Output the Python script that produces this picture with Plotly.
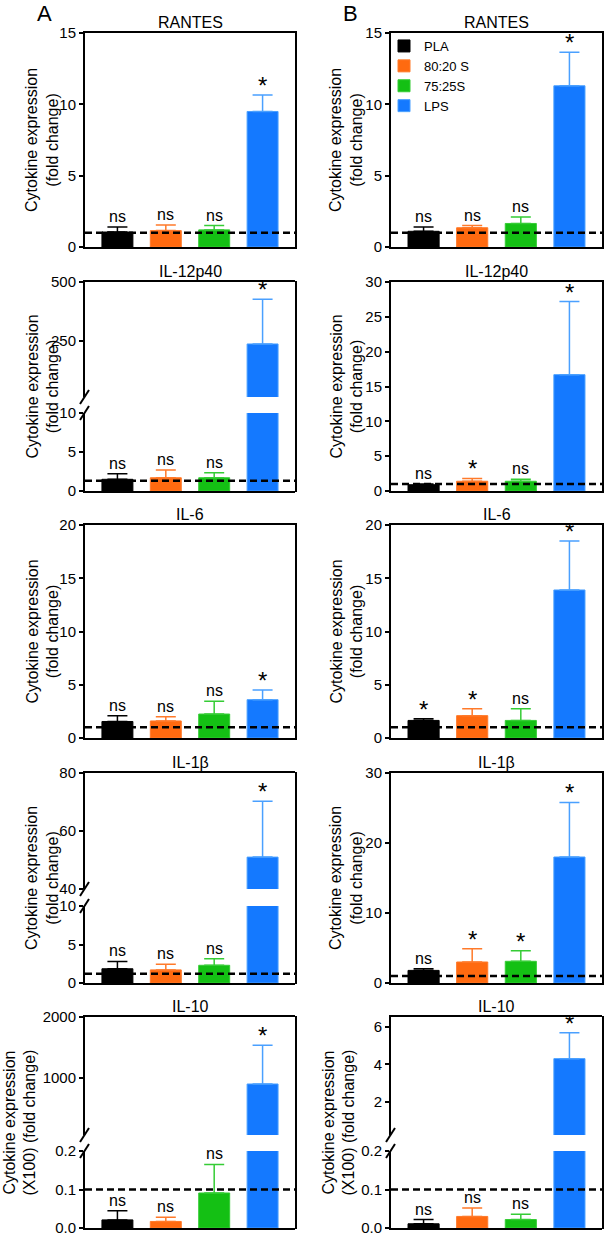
import plotly.graph_objects as go

# Cytokine fold change, two experiments (A, B), four treatment groups
groups = ["PLA", "80:20 S", "75:25S", "LPS"]
bar_colors = ["#000000", "#FF6A10", "#14C014", "#1479FF"]
err_colors = ["#000000", "#FF7A2A", "#35CC35", "#4AA0FF"]

# column A
rantes_a = [1.05, 1.15, 1.2, 9.5]
rantes_a_err = [0.35, 0.4, 0.3, 1.15]
rantes_a_sig = ["ns", "ns", "ns", "*"]
il12_a = [1.5, 1.7, 1.7, 236]
il12_a_err = [0.7, 1.0, 0.65, 190]
il12_a_sig = ["ns", "ns", "ns", "*"]
il6_a = [1.55, 1.6, 2.25, 3.6]
il6_a_err = [0.55, 0.4, 1.2, 0.9]
il6_a_sig = ["ns", "ns", "ns", "*"]
il1b_a = [1.85, 1.7, 2.3, 51]
il1b_a_err = [0.95, 0.75, 0.85, 19.3]
il1b_a_sig = ["ns", "ns", "ns", "*"]
il10_a = [0.021, 0.017, 0.091, 893]
il10_a_err = [0.024, 0.011, 0.074, 640]
il10_a_sig = ["ns", "ns", "ns", "*"]

# column B
rantes_b = [1.1, 1.35, 1.65, 11.3]
rantes_b_err = [0.3, 0.15, 0.45, 2.35]
rantes_b_sig = ["ns", "ns", "ns", "*"]
il12_b = [0.9, 1.4, 1.4, 16.7]
il12_b_err = [0.1, 0.4, 0.3, 10.5]
il12_b_sig = ["ns", "*", "ns", "*"]
il6_b = [1.65, 2.1, 1.65, 13.9]
il6_b_err = [0.15, 0.65, 1.1, 4.6]
il6_b_sig = ["*", "*", "ns", "*"]
il1b_b = [1.8, 3.0, 3.1, 18.0]
il1b_b_err = [0.25, 1.9, 1.5, 7.8]
il1b_b_sig = ["ns", "*", "*", "*"]
il10_b = [0.011, 0.03, 0.022, 4.31]
il10_b_err = [0.011, 0.022, 0.014, 1.39]
il10_b_sig = ["ns", "ns", "ns", "*"]

# dashed reference (control = 1 fold; IL-10 shown x100)
ref_fold = 1
ref_il10 = 0.1

W, H = 607, 1240
FONT = "Liberation Sans, Arial, Helvetica, sans-serif"
col_x = {"A": (85, 295), "B": (391, 602)}

def px(x):
    return x / W

def py(y):
    return 1 - y / H

# (tickvals, ticktext or None, range, top px, bottom px)
lo10 = ([0, 5, 10], None, [0, 10])
lo02 = ([0, 0.1, 0.2], ["0.0", "0.1", "0.2"], [0, 0.2])

panels = [
    ("A", "RANTES", rantes_a, rantes_a_err, rantes_a_sig, ref_fold, "(fold change)", 43,
     [([0, 5, 10, 15], None, [0, 15], 33, 247)]),
    ("B", "RANTES", rantes_b, rantes_b_err, rantes_b_sig, ref_fold, "(fold change)", 45,
     [([0, 5, 10, 15], None, [0, 15], 33, 247)]),
    ("A", "IL-12p40", il12_a, il12_a_err, il12_a_sig, 1.3, "(fold change)", 43,
     [([250, 500], None, [10, 500], 282, 397), (*lo10, 413, 491)]),
    ("B", "IL-12p40", il12_b, il12_b_err, il12_b_sig, ref_fold, "(fold change)", 45,
     [([0, 5, 10, 15, 20, 25, 30], None, [0, 30], 282, 491)]),
    ("A", "IL-6", il6_a, il6_a_err, il6_a_sig, ref_fold, "(fold change)", 43,
     [([0, 5, 10, 15, 20], None, [0, 20], 525, 738)]),
    ("B", "IL-6", il6_b, il6_b_err, il6_b_sig, ref_fold, "(fold change)", 45,
     [([0, 5, 10, 15, 20], None, [0, 20], 525, 738)]),
    ("A", "IL-1β", il1b_a, il1b_a_err, il1b_a_sig, 1.2, "(fold change)", 43,
     [([40, 60, 80], None, [40, 80], 773, 889), (*lo10, 906, 983)]),
    ("B", "IL-1β", il1b_b, il1b_b_err, il1b_b_sig, ref_fold, "(fold change)", 45,
     [([0, 10, 20, 30], None, [0, 30], 773, 983)]),
    ("A", "IL-10", il10_a, il10_a_err, il10_a_sig, ref_il10, "(X100) (fold change)", 66,
     [([1000, 2000], None, [50, 2000], 1017, 1135), (*lo02, 1151, 1228)]),
    ("B", "IL-10", il10_b, il10_b_err, il10_b_sig, ref_il10, "(X100) (fold change)", 53,
     [([2, 4, 6], None, [0.2, 6.55], 1017, 1135), (*lo02, 1151, 1228)]),
]

fig = go.Figure()
layout = {}
shapes = []
annotations = []
n = 0
line_kw = dict(showline=True, linecolor="black", linewidth=2, showgrid=False,
               zeroline=False, automargin=False)

for col, title, means, errs, sigs, ref, ytitle2, toff, segs in panels:
    x0, x1 = col_x[col]
    top, bottom = segs[0][3], segs[-1][4]
    broken = len(segs) > 1
    for k, (tv, tt, rng, s_top, s_bot) in enumerate(segs):
        n += 1
        xa, ya = ("x", "y") if n == 1 else (f"x{n}", f"y{n}")
        xkey, ykey = ("xaxis", "yaxis") if n == 1 else (f"xaxis{n}", f"yaxis{n}")
        is_upper = broken and k == 0
        layout[xkey] = dict(domain=[px(x0), px(x1)], range=[-0.67, 3.67], anchor=ya,
                            showticklabels=False, ticks="", side="top" if is_upper else "bottom",
                            mirror=not broken, **line_kw)
        layout[ykey] = dict(domain=[py(s_bot), py(s_top)], range=rng, anchor=xa,
                            tickvals=tv, ticktext=tt if tt else [str(v) for v in tv],
                            ticks="outside", ticklen=4, tickwidth=2, tickcolor="black",
                            tickfont=dict(size=15, color="black", family=FONT),
                            mirror=not broken, **line_kw)
        for i, g in enumerate(groups):
            fig.add_trace(go.Bar(
                x=[g], y=[means[i]], xaxis=xa, yaxis=ya, width=0.64,
                name=g, legendgroup=g,
                showlegend=(col == "B" and title == "RANTES"),
                marker=dict(color=bar_colors[i], line=dict(width=1, color=err_colors[i])),
                error_y=dict(type="data", symmetric=False, array=[errs[i]], arrayminus=[0],
                             color=err_colors[i], thickness=1.5, width=10),
            ))
            tip = means[i] + errs[i]
            if rng[0] <= tip <= rng[1] or (not broken):
                star = sigs[i] == "*"
                annotations.append(dict(
                    x=g, y=tip, xref=xa, yref=ya, text=sigs[i], showarrow=False,
                    yanchor="bottom", yshift=-6 if star else 0,
                    font=dict(size=24 if star else 16, color="black", family=FONT),
                ))
        if k == len(segs) - 1:
            shapes.append(dict(type="line", xref=f"{xa} domain", yref=ya, x0=0, x1=1,
                               y0=ref, y1=ref, line=dict(color="black", width=2.5, dash="7px,4px")))
    if broken:
        shapes.append(dict(type="line", xref="paper", yref="paper", x0=px(x1 + 1), x1=px(x1 + 1),
                           y0=py(bottom + 1), y1=py(top - 1), line=dict(color="black", width=2)))
        up_bot, lo_top = segs[0][4], segs[1][3]
        for yy in (up_bot, lo_top):
            shapes.append(dict(type="line", xref="paper", yref="paper",
                               x0=px(x0 - 5), x1=px(x0 + 4), y0=py(yy + 7), y1=py(yy - 7),
                               line=dict(color="black", width=2)))
    # panel title and y-axis title
    annotations.append(dict(x=px((x0 + x1) / 2), y=py(top), xref="paper", yref="paper",
                            text=title, showarrow=False, yanchor="bottom", xanchor="center",
                            font=dict(size=16, color="black", family=FONT)))
    annotations.append(dict(x=px(x0 - toff), y=py((top + bottom) / 2), xref="paper", yref="paper",
                            text="Cytokine expression<br>" + ytitle2, textangle=-90,
                            showarrow=False, xanchor="center", yanchor="middle",
                            font=dict(size=16, color="black", family=FONT)))

for letter, lx in (("A", 44), ("B", 350)):
    annotations.append(dict(x=px(lx), y=py(14), xref="paper", yref="paper", text=letter,
                            showarrow=False, xanchor="center", yanchor="middle",
                            font=dict(size=22, color="black", family=FONT)))

fig.update_layout(
    width=W, height=H, autosize=False,
    margin=dict(l=0, r=0, t=0, b=0, autoexpand=False),
    paper_bgcolor="white", plot_bgcolor="white",
    barmode="overlay",
    font=dict(family=FONT, color="black"),
    legend=dict(x=px(384), y=py(31), xanchor="left", yanchor="top",
                bgcolor="rgba(0,0,0,0)", font=dict(size=13, family=FONT, color="black"),
                itemwidth=30, tracegroupgap=0),
    shapes=shapes,
    annotations=annotations,
    **layout,
)

# the page body has a default 8px margin; drop it so the figure sits at the corner
fig.write_html("out.html", config={"displayModeBar": False},
               post_script="document.body.style.margin='0';")
